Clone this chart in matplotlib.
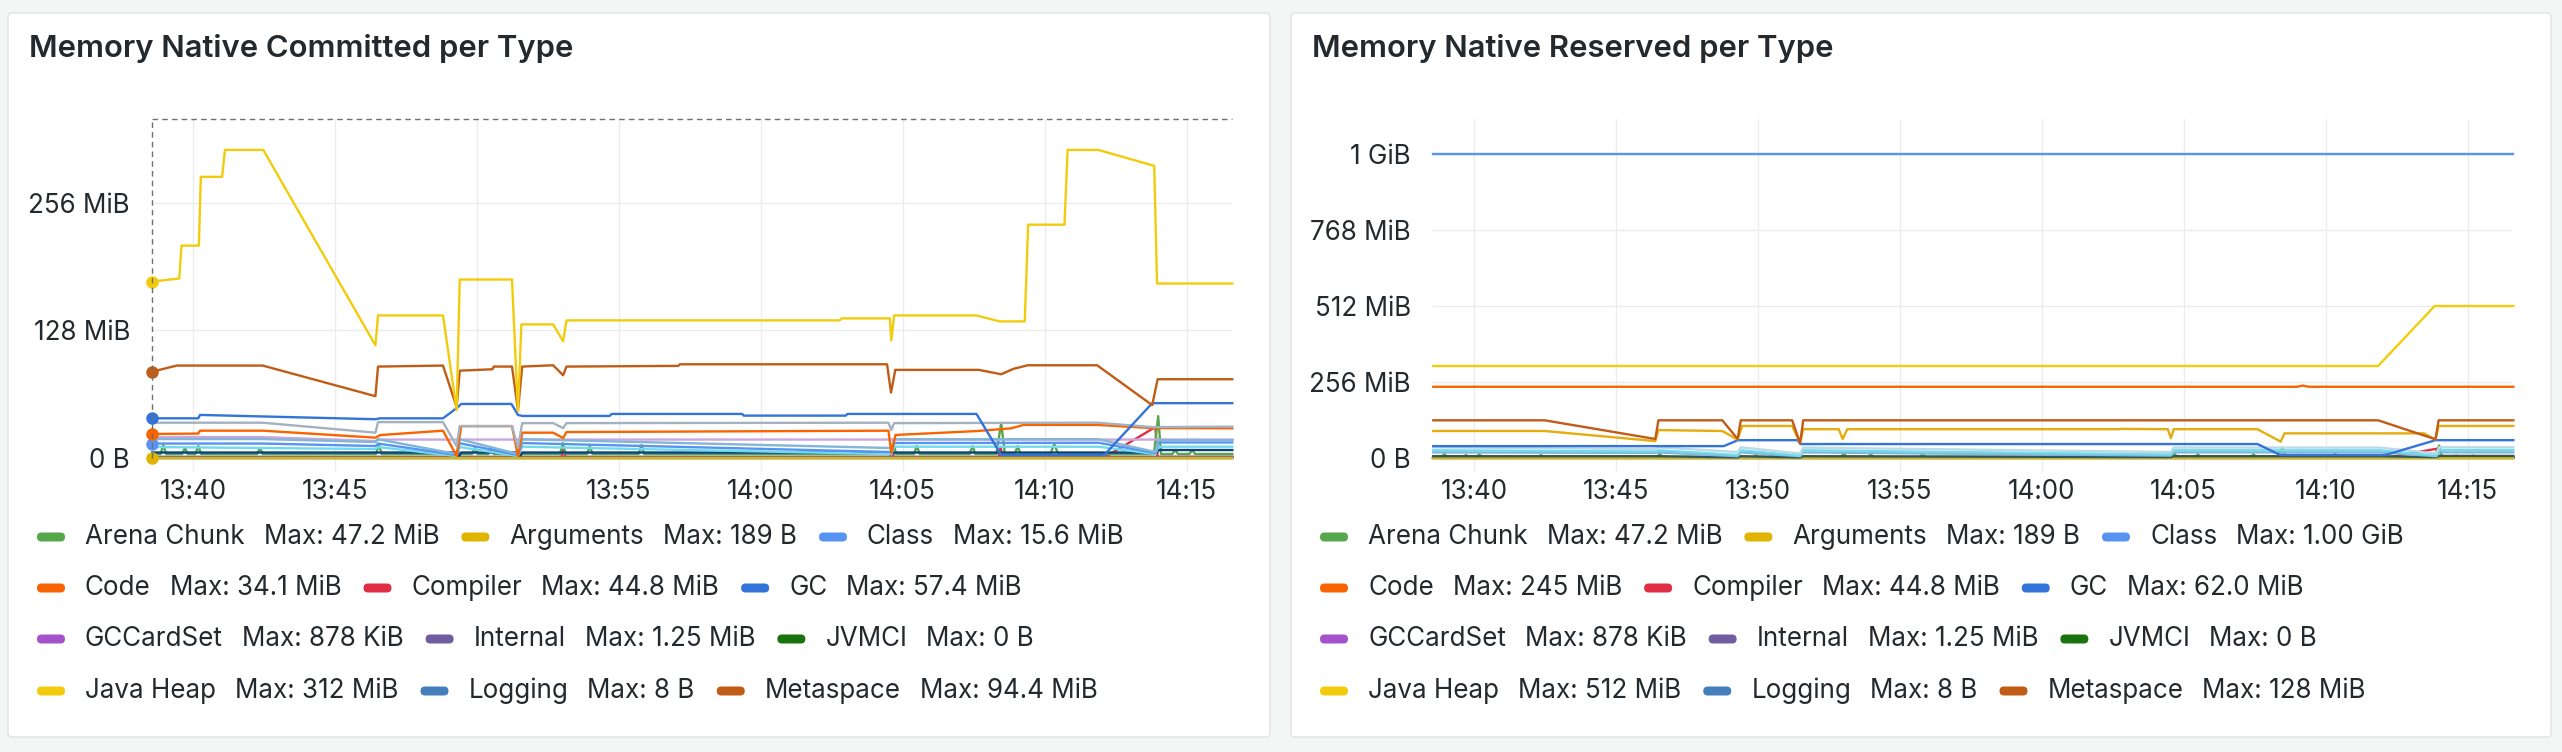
import numpy as np
import pandas as pd
import matplotlib
matplotlib.use("Agg")
import matplotlib.pyplot as plt
import matplotlib.dates as mdates
from matplotlib.patches import FancyBboxPatch
from matplotlib.transforms import IdentityTransform

plt.rcParams["font.family"] = ["Inter", "DejaVu Sans"]

W, H = 2562, 752
BASE = pd.Timestamp("2024-01-01 13:40:00")
T_START, T_END = -1.44, 36.6  # view range, minutes after 13:40

# ---------------- shared series (same in both panels), MiB, t = minutes after 13:40
arena_t = [-1.43,
           -1.14, -1.04, -0.94, -0.38, -0.28, -0.18, 0.09, 0.19, 0.29,
           2.26, 2.36, 2.46, 6.45, 6.55, 6.65, 9.83, 9.93, 10.03,
           10.40, 10.50, 10.60, 12.93, 13.03, 13.13, 13.88, 13.98, 14.08,
           15.70, 15.80, 15.90, 24.57, 24.67, 24.77, 25.40, 25.50, 25.60,
           27.36, 27.46, 27.56, 28.30, 28.47, 28.60, 28.95, 29.05, 29.15,
           30.20, 30.34, 30.48, 33.85, 34.00, 34.10, 34.50, 34.60, 34.70,
           35.10, 35.20, 35.30,
           36.61]
arena_v = [4,
           4, 13, 4, 4, 10, 4, 4, 12, 4,
           4, 10, 4, 4, 14, 4, 4, 10, 4,
           4, 10, 4, 4, 15, 4, 4, 12, 4,
           4, 13, 4, 4, 15, 4, 4, 12, 4,
           4, 12, 4, 4, 35, 4, 4, 12, 4,
           4, 14, 4, 4, 42, 4, 4, 8, 4,
           4, 8, 4,
           4]
comp_t = [-1.43, 9.25, 9.33, 9.41, 11.43, 11.50, 11.57, 12.98, 13.05, 13.12,
          24.55, 24.62, 24.69, 28.38, 28.45, 28.52, 32.10, 33.90, 33.98, 36.61]
comp_v = [0.5, 0.5, 8, 0.5, 0.5, 10, 0.5, 0.5, 10, 0.5,
          0.5, 12, 0.5, 0.5, 11, 0.5, 0.5, 31, 1, 1]
flat_t = [-1.43, 36.61]
cardset_v = [0.6, 0.86]
internal_v = [1.2, 1.25]
zero_v = [0, 0]

# ---------------- committed panel
heap_c_t = [-1.43, -0.48, -0.40, 0.21, 0.28, 1.03, 1.13, 2.48, 6.43, 6.52, 8.81, 9.29,
            9.40, 11.24, 11.45, 11.57, 12.69, 13.04, 13.16, 22.78, 22.85, 24.55, 24.60,
            24.70, 27.60, 28.41, 29.30, 29.42, 30.70, 30.81, 31.89, 33.86, 33.96, 36.61]
heap_c_v = [177, 180, 213, 213, 282, 282, 309, 309, 113, 143, 143, 48,
            179, 179, 47, 134, 134, 117, 138, 138, 140, 140, 118,
            143, 143, 137, 137, 234, 234, 309, 309, 293, 175, 175]
meta_c_t = [-1.43, -0.57, 2.46, 6.43, 6.52, 8.81, 9.29, 9.40, 10.55, 10.60, 11.24, 11.45,
            11.60, 12.69, 13.04, 13.16, 17.10, 17.15, 24.45, 24.59, 24.74, 27.68, 28.47,
            28.90, 29.41, 31.85, 33.79, 33.98, 36.61]
meta_c_v = [86.6, 92.7, 92.7, 62, 91.7, 92.7, 51, 87.6, 89, 91.7, 91.7, 48,
            91.7, 93, 83, 91.7, 92.4, 94, 94, 65.6, 88.4, 88.4, 84,
            89.4, 93, 93, 53, 79, 79]
gc_c_t = [-1.43, 0.19, 0.25, 6.43, 6.60, 8.81, 9.29, 9.45, 11.22, 11.45, 11.60,
          14.68, 14.75, 19.35, 19.40, 23.00, 23.05, 27.60, 28.47, 32.10, 33.79, 36.61]
gc_c_v = [39.8, 39.8, 43.2, 38.9, 39.8, 39.8, 50, 54.2, 54.2, 43.2, 42.2,
          42.2, 44.2, 44.2, 42.5, 42.5, 44.2, 44.2, 3, 3, 55, 55]
code_c_t = [-1.43, 0.19, 0.25, 2.46, 6.43, 6.60, 8.81, 9.29, 9.45, 11.24, 11.45, 11.60,
            12.69, 13.04, 13.16, 24.50, 24.60, 24.75, 27.60, 28.83, 29.26, 31.85, 33.79, 36.61]
code_c_v = [24.1, 24.5, 27.4, 27.4, 20.4, 23, 27.4, 2, 32, 32, 2, 25.4,
            25.4, 20, 26, 27.4, 5, 23.1, 27, 29.8, 33.2, 33.2, 30, 29.8]
sym_c_t = [-1.43, 2.46, 6.43, 6.52, 8.81, 9.29, 9.40, 11.24, 11.45, 11.60, 12.69,
           13.04, 13.16, 24.50, 24.60, 24.70, 31.85, 33.79, 36.61]
sym_c_v = [35.4, 35.4, 25.4, 36, 36, 12, 32, 32, 10, 35, 35,
           30, 35, 35.4, 28, 35, 35.4, 31, 31.4]
sync_c_t = [-1.43, 2.46, 6.43, 6.52, 36.61]
sync_c_v = [21, 21, 17, 18.5, 18.5]
thr_c_t = [-1.43, 2.46, 6.43, 6.52, 9.29, 9.40, 11.45, 11.60, 24.60, 24.70,
           31.90, 33.90, 34.00, 36.61]
thr_c_v = [19, 19, 16, 18.8, 4, 18.8, 4, 18.8, 10, 18.8, 18.8, 6, 18, 18]
cls_c_t = [-1.43, 2.46, 6.43, 6.52, 9.29, 9.40, 11.45, 11.60, 24.60, 24.70,
           31.90, 33.90, 34.00, 36.61]
cls_c_v = [14.5, 14.5, 12, 14.5, 3, 14.8, 3, 15, 6, 15, 15.3, 5, 15.6, 15.6]
shc_c_t = [-1.43, 6.43, 6.52, 9.29, 9.40, 11.45, 11.60, 24.60, 24.70,
           31.90, 33.90, 34.00, 36.61]
shc_c_v = [11, 9, 11, 2, 11, 2, 11.3, 4, 11.3, 11.3, 4, 11.3, 11.3]
oth_c_t = [-1.43, 9.29, 9.35, 9.45, 11.45, 11.50, 11.60, 28.47, 32.10, 33.96, 34.00, 36.61]
oth_c_v = [5.5, 5.5, 1, 5.5, 5.5, 1, 5.5, 5.5, 5.5, 5.5, 8, 8]

# ---------------- reserved panel
cls_r_v = [1024, 1024]
heap_r_t = [-1.43, 31.85, 33.84, 36.61]
heap_r_v = [310, 310, 512, 512]
code_r_t = [-1.43, 29.00, 29.20, 29.40, 36.61]
code_r_v = [240, 240, 244, 240, 240]
meta_r_t = [-1.43, 2.49, 6.39, 6.50, 8.75, 9.29, 9.40, 11.21, 11.49, 11.60,
            31.85, 33.87, 33.98, 36.61]
meta_r_v = [127, 127, 64, 127, 127, 64, 127, 127, 50, 127, 127, 63, 127, 127]
thr_r_t = [-1.43, 2.49, 6.39, 6.50, 8.75, 9.29, 9.45, 11.21, 11.49, 11.60,
           12.85, 12.99, 13.15, 22.69, 22.80, 24.44, 24.55, 24.65, 27.60, 28.42,
           28.55, 33.47, 33.87, 33.98, 36.61]
thr_r_v = [91, 91, 57, 94, 91, 62, 108, 108, 50, 97,
           97, 64, 97, 97, 98, 97, 67, 97, 97, 55,
           83, 83, 62, 108, 108]
gc_r_t = [-1.43, 8.80, 9.30, 11.40, 11.50, 27.60, 28.40, 32.10, 33.87, 36.61]
gc_r_v = [40, 40, 60, 60, 47, 47, 10, 10, 60, 60]
low_r_t = [-1.43, 6.39, 6.50, 9.29, 9.40, 11.49, 11.60, 24.55, 24.65,
           31.90, 33.90, 34.00, 36.61]
sym_r_v = [36, 30, 36, 20, 36, 15, 35, 20, 35, 35, 15, 36, 36]
shc_r_v = [26, 22, 26, 10, 26, 8, 26, 12, 26, 26, 8, 27, 27]
stk_r_v = [19, 17, 19, 6, 19, 6, 19, 8, 19, 19, 6, 19, 19]
oth_r_v = [6, 6, 6, 2, 6, 2, 6, 3, 6, 6, 3, 7, 7]

# ---------------- legend
leg_names = ["Arena Chunk", "Arguments", "Class", "Code", "Compiler", "GC",
             "GCCardSet", "Internal", "JVMCI", "Java Heap", "Logging", "Metaspace"]
leg_colors = ["#56A64B", "#E0B400", "#5794F2", "#FA6400", "#E02F44", "#3274D9",
              "#A352CC", "#705DA0", "#19730E", "#F2CC0C", "#447EBC", "#C15C17"]
max_committed = ["47.2 MiB", "189 B", "15.6 MiB", "34.1 MiB", "44.8 MiB", "57.4 MiB",
                 "878 KiB", "1.25 MiB", "0 B", "312 MiB", "8 B", "94.4 MiB"]
max_reserved = ["47.2 MiB", "189 B", "1.00 GiB", "245 MiB", "44.8 MiB", "62.0 MiB",
                "878 KiB", "1.25 MiB", "0 B", "512 MiB", "8 B", "128 MiB"]

C = dict(zip(leg_names, leg_colors))
GRAY, SKY, CYAN, NAVY, LILAC, GOLD = "#A4B1BF", "#82B5D8", "#70DBED", "#0A437C", "#C9A6DE", "#E5AC0E"

committed = [  # (t, v, color, dot at first sample), drawn bottom to top
    (comp_t, comp_v, C["Compiler"], False),
    (arena_t, arena_v, C["Arena Chunk"], False),
    (flat_t, internal_v, C["Internal"], False),
    (flat_t, cardset_v, C["GCCardSet"], False),
    (oth_c_t, oth_c_v, NAVY, False),
    (flat_t, zero_v, C["JVMCI"], False),
    (flat_t, zero_v, C["Logging"], False),
    (flat_t, zero_v, C["Arguments"], True),
    (shc_c_t, shc_c_v, CYAN, False),
    (cls_c_t, cls_c_v, C["Class"], True),
    (sync_c_t, sync_c_v, LILAC, False),
    (thr_c_t, thr_c_v, SKY, False),
    (code_c_t, code_c_v, C["Code"], True),
    (sym_c_t, sym_c_v, GRAY, False),
    (gc_c_t, gc_c_v, C["GC"], True),
    (meta_c_t, meta_c_v, C["Metaspace"], True),
    (heap_c_t, heap_c_v, C["Java Heap"], True),
]
reserved = [
    (comp_t, comp_v, C["Compiler"], False),
    (arena_t, arena_v, C["Arena Chunk"], False),
    (flat_t, internal_v, C["Internal"], False),
    (flat_t, cardset_v, C["GCCardSet"], False),
    (flat_t, zero_v, C["JVMCI"], False),
    (flat_t, zero_v, C["Logging"], False),
    (flat_t, zero_v, C["Arguments"], False),
    (low_r_t, oth_r_v, "#2F575E", False),
    (low_r_t, stk_r_v, SKY, False),
    (low_r_t, shc_r_v, CYAN, False),
    (low_r_t, sym_r_v, "#BCD9E6", False),
    (gc_r_t, gc_r_v, C["GC"], False),
    (thr_r_t, thr_r_v, GOLD, False),
    (meta_r_t, meta_r_v, C["Metaspace"], False),
    (code_r_t, code_r_v, C["Code"], False),
    (heap_r_t, heap_r_v, C["Java Heap"], False),
    (flat_t, cls_r_v, C["Class"], False),
]

TEXT = "#24292E"
GRID = "#EBECEE"
PX = 0.72  # points per pixel at dpi 100


def to_time(mins):
    return mdates.date2num(BASE + pd.to_timedelta(np.asarray(mins), unit="m"))


fig = plt.figure(figsize=(W / 100, H / 100), dpi=100, facecolor="#F4F5F5")
ident = IdentityTransform()

panels = [
    dict(x0=8, x1=1270, title="Memory Native Committed per Type", ax_x=152,
         series=committed, ymax=340, ticks=[0, 128, 256],
         labels=["0 B", "128 MiB", "256 MiB"], maxes=max_committed, cross=True),
    dict(x0=1291, x1=2551, title="Memory Native Reserved per Type", ax_x=1433,
         series=reserved, ymax=1142, ticks=[0, 256, 512, 768, 1024],
         labels=["0 B", "256 MiB", "512 MiB", "768 MiB", "1 GiB"], maxes=max_reserved,
         cross=False),
]

AX_TOP, AX_BOT, AX_W = 119, 458, 1080

for p in panels:
    box = FancyBboxPatch((p["x0"], H - 737), p["x1"] - p["x0"], 724,
                         boxstyle="round,pad=0,rounding_size=4", transform=ident,
                         facecolor="white", edgecolor="#E1E2E4", linewidth=1.0,
                         zorder=-10)
    fig.add_artist(box)
    fig.text(p["x0"] + 21, H - 57, p["title"], transform=ident, fontsize=31 * PX,
             fontweight="semibold", color=TEXT, va="baseline", ha="left")

    ax = fig.add_axes([p["ax_x"] / W, 1 - AX_BOT / H, AX_W / W, (AX_BOT - AX_TOP) / H])
    ax.set_facecolor("none")
    for s in ax.spines.values():
        s.set_visible(False)

    for t, v, col, dot in p["series"]:
        x = to_time(t)
        ax.plot(x, v, color=col, lw=1.7, solid_joinstyle="round", clip_on=False)
        if dot:
            ax.plot(x[:1], v[:1], "o", color=col, ms=9, mec="none", clip_on=False)

    ax.set_xlim(to_time([T_START])[0], to_time([T_END])[0])
    ax.set_ylim(0, p["ymax"])
    ax.set_yticks(p["ticks"])
    ax.set_yticklabels(p["labels"])
    ax.xaxis.set_major_locator(mdates.MinuteLocator(byminute=range(0, 60, 5)))
    ax.xaxis.set_major_formatter(mdates.DateFormatter("%H:%M"))
    ax.grid(True, color=GRID, lw=1.0)
    ax.set_axisbelow(True)
    ax.tick_params(axis="x", length=13 * PX, width=1.0, color=GRID, pad=8 * PX,
                   labelsize=26 * PX, labelcolor=TEXT)
    ax.tick_params(axis="y", length=0, pad=22 * PX, labelsize=26 * PX, labelcolor=TEXT)

    if p["cross"]:
        x0, x1 = ax.get_xlim()
        ax.plot([x0, x1], [p["ymax"], p["ymax"]], color="#6E7075", lw=1.0,
                dashes=(4, 3), clip_on=False)
        ax.plot([x0, x0], [0, p["ymax"]], color="#6E7075", lw=1.0,
                dashes=(4, 3), clip_on=False)

# legend, flowed left to right, three entries per row
fig.canvas.draw()
renderer = fig.canvas.get_renderer()
rows_y = [537, 588, 639, 691]
for p in panels:
    for i, (name, col, mx) in enumerate(zip(leg_names, leg_colors, p["maxes"])):
        row, col_i = divmod(i, 3)
        if col_i == 0:
            x = p["x0"] + 29
        y = H - rows_y[row]
        fig.add_artist(FancyBboxPatch((x, y - 4.5), 28, 9,
                                      boxstyle="round,pad=0,rounding_size=4.5",
                                      transform=ident, facecolor=col, edgecolor="none"))
        x += 28 + 20
        t1 = fig.text(x, y, name, transform=ident, fontsize=26 * PX, color=TEXT,
                      va="center", ha="left")
        x += t1.get_window_extent(renderer).width + 19
        t2 = fig.text(x, y, "Max: " + mx, transform=ident, fontsize=26 * PX,
                      color=TEXT, va="center", ha="left")
        x += t2.get_window_extent(renderer).width + 22

fig.savefig("out.png", dpi=100, facecolor=fig.get_facecolor())
